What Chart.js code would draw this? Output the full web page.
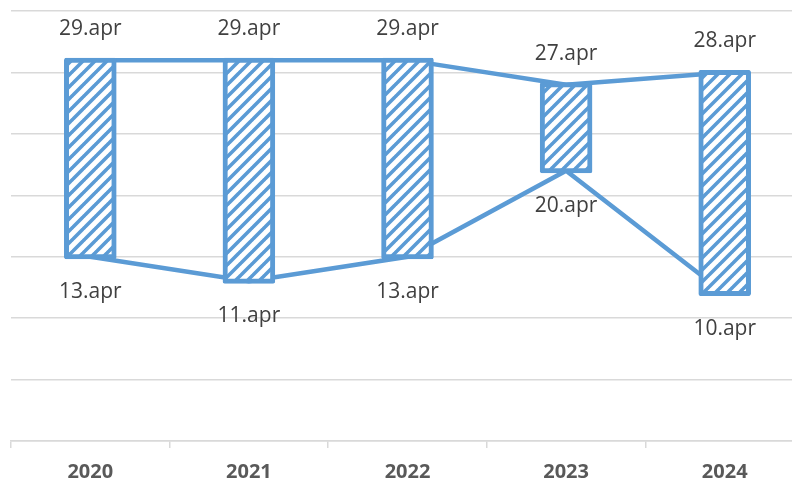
<!DOCTYPE html>
<html>
<head>
<meta charset="utf-8">
<script src="https://cdn.jsdelivr.net/npm/chart.js@4/dist/chart.umd.min.js"></script>
<style>
  html, body { margin: 0; padding: 0; background: #fff; overflow: hidden; }
  #wrap { width: 804px; height: 481px; }
</style>
</head>
<body>
<div id="wrap"><canvas id="chart"></canvas></div>
<script>
// years and day-of-april for first and last date
var years = ["2020", "2021", "2022", "2023", "2024"];
var fromDay = [13, 11, 13, 20, 10];
var toDay = [29, 29, 29, 27, 28];
var monthName = "apr";

var blue = "#5B9BD5";

// diagonal hatch fill like the excel pattern
function hatch() {
  var s = 12;
  var c = document.createElement("canvas");
  c.width = s; c.height = s;
  var x = c.getContext("2d");
  x.fillStyle = "#fff";
  x.fillRect(0, 0, s, s);
  x.strokeStyle = blue;
  x.lineWidth = 3.6;
  x.beginPath();
  x.moveTo(-1, s + 1); x.lineTo(s + 1, -1);
  x.moveTo(-1, 1); x.lineTo(1, -1);
  x.moveTo(s - 1, s + 1); x.lineTo(s + 1, s - 1);
  x.stroke();
  return x.createPattern(c, "repeat");
}

var barData = [];
for (var i = 0; i < years.length; i++) {
  barData.push([fromDay[i], toDay[i]]);
}

var dateLabels = {
  id: "dateLabels",
  afterDatasetsDraw: function(chart) {
    var ctx = chart.ctx;
    var meta = chart.getDatasetMeta(0);
    var y = chart.scales.y;
    ctx.save();
    ctx.font = "21px 'Open Sans'";
    ctx.fillStyle = "#404040";
    ctx.textAlign = "center";
    ctx.textBaseline = "alphabetic";
    for (var i = 0; i < meta.data.length; i++) {
      var bx = meta.data[i].x;
      ctx.fillText(toDay[i] + "." + monthName, bx, y.getPixelForValue(toDay[i]) - 25);
      ctx.fillText(fromDay[i] + "." + monthName, bx, y.getPixelForValue(fromDay[i]) + 41);
    }
    ctx.restore();
  }
};

new Chart(document.getElementById("chart"), {
  data: {
    labels: years,
    datasets: [
      {
        type: "bar",
        data: barData,
        backgroundColor: hatch(),
        borderColor: blue,
        borderWidth: 5,
        borderSkipped: false,
        borderRadius: 2,
        inflateAmount: 2.5,
        barPercentage: 0.3,
        categoryPercentage: 1,
        order: 1
      },
      {
        type: "line",
        data: toDay,
        borderColor: blue,
        borderWidth: 4.5,
        pointRadius: 0,
        fill: false,
        order: 2
      },
      {
        type: "line",
        data: fromDay,
        borderColor: blue,
        borderWidth: 4.5,
        pointRadius: 0,
        fill: false,
        order: 2
      }
    ]
  },
  options: {
    responsive: true,
    maintainAspectRatio: false,
    animation: false,
    layout: { padding: { left: 11, top: 11, right: 0, bottom: 0 } },
    plugins: {
      legend: { display: false },
      tooltip: { enabled: false }
    },
    scales: {
      x: {
        offset: true,
        afterFit: function(s) { s.height = 40; },
        grid: {
          offset: true,
          drawOnChartArea: false,
          tickLength: 7,
          color: "#d9d9d9",
          lineWidth: 1.5
        },
        border: { color: "#d9d9d9", width: 1.5 },
        ticks: {
          color: "#595959",
          font: { family: "'Open Sans'", size: 20, weight: "bold" },
          padding: 12
        }
      },
      y: {
        min: -2,
        max: 33,
        ticks: { stepSize: 5, display: false },
        grid: { color: "#d9d9d9", lineWidth: 1.5, drawTicks: false },
        border: { display: false }
      }
    }
  },
  plugins: [dateLabels]
});
</script>
</body>
</html>
